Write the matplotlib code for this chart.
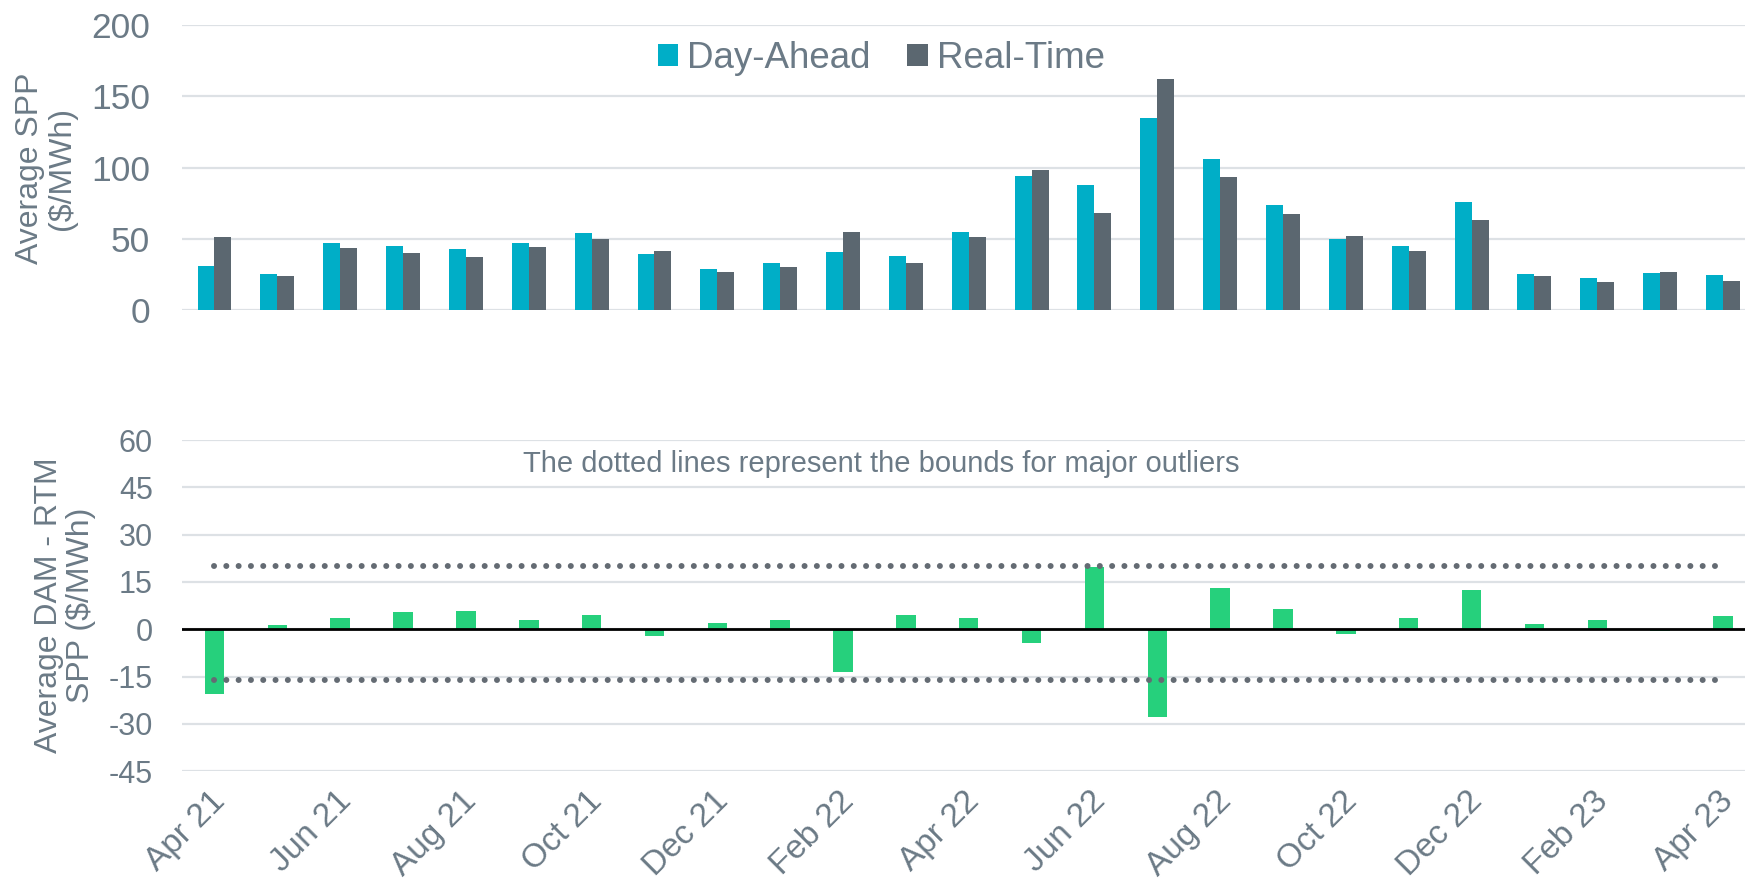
import matplotlib
matplotlib.use("Agg")
import matplotlib.pyplot as plt
import matplotlib.transforms as mtransforms
import numpy as np

plt.rcParams['font.family'] = ['Liberation Sans', 'DejaVu Sans']

months = ["Apr 21", "May 21", "Jun 21", "Jul 21", "Aug 21", "Sep 21", "Oct 21", "Nov 21",
          "Dec 21", "Jan 22", "Feb 22", "Mar 22", "Apr 22", "May 22", "Jun 22", "Jul 22",
          "Aug 22", "Sep 22", "Oct 22", "Nov 22", "Dec 22", "Jan 23", "Feb 23", "Mar 23", "Apr 23"]
day_ahead = [31.1, 25.5, 46.8, 44.9, 43.1, 47.1, 53.8, 39.3, 28.6, 33.0, 41.0, 37.7, 54.5,
             93.9, 87.5, 134.8, 106.0, 73.5, 50.1, 44.7, 75.6, 25.5, 22.5, 26.0, 24.3]
real_time = [51.5, 24.1, 43.3, 39.8, 37.2, 44.0, 49.6, 41.4, 26.5, 30.0, 54.5, 33.2, 51.0,
             98.1, 67.9, 162.5, 93.2, 67.2, 51.7, 41.4, 63.2, 23.9, 19.4, 26.7, 20.1]
dam_rtm_diff = [-20.5, 1.4, 3.6, 5.5, 5.9, 3.0, 4.4, -2.1, 2.0, 3.0, -13.4, 4.5, 3.5,
                -4.3, 19.7, -27.9, 13.1, 6.5, -1.6, 3.5, 12.4, 1.7, 3.0, -0.6, 4.2]
upper_bound = 20.2
lower_bound = -16.2
top_yticks = [0, 50, 100, 150, 200]
bottom_yticks = [-45, -30, -15, 0, 15, 30, 45, 60]
annotation = "The dotted lines represent the bounds for major outliers"

C_DA = "#00AEC7"
C_RT = "#5B6770"
C_GREEN = "#26D07C"
C_TEXT = "#6B7A86"
C_GRID = "#DDE1E5"
C_DOT = "#646B73"

fig = plt.figure(figsize=(17.45, 8.84), dpi=100)
W, H = 1745.0, 884.0
left = 182 / W
x = np.arange(len(months))
xlim = (-0.517, 24.35)

# Top panel
ax1 = fig.add_axes([left, (H - 310) / H, 1 - left, 284.7 / H])
bw = 0.27
ax1.bar(x - bw / 2, day_ahead, width=bw, color=C_DA, label="Day-Ahead", zorder=3)
ax1.bar(x + bw / 2, real_time, width=bw, color=C_RT, label="Real-Time", zorder=3)
ax1.set_ylim(0, 200)
ax1.set_xlim(*xlim)
ax1.set_yticks(top_yticks)
ax1.set_yticklabels([str(t) for t in top_yticks])
ax1.tick_params(axis='y', length=0, pad=23, labelsize=25.5, labelcolor=C_TEXT)
ax1.set_xticks([])
ax1.grid(axis='y', color=C_GRID, linewidth=1.6, zorder=0)
for s in ax1.spines.values():
    s.set_visible(False)
leg = ax1.legend(loc='center', bbox_to_anchor=(0.505, 0.934), bbox_transform=fig.transFigure,
                 ncol=2, frameon=False, fontsize=26.5, handlelength=0.55, handleheight=0.55,
                 handletextpad=0.25, columnspacing=1.0, borderpad=0)
for t in leg.get_texts():
    t.set_color(C_TEXT)
fig.text(46 / W, 1 - 168 / H, "Average SPP\n($/MWh)", rotation=90, ha='center', va='center',
         multialignment='center', fontsize=23, color=C_TEXT, linespacing=1.05)

# Bottom panel
ax2 = fig.add_axes([left, (H - 771.3) / H, 1 - left, 331.3 / H])
ax2.bar(x, dam_rtm_diff, width=0.31, color=C_GREEN, zorder=3)
ax2.set_ylim(-45, 60)
ax2.set_xlim(*xlim)
ax2.set_yticks(bottom_yticks)
ax2.set_yticklabels([str(t) for t in bottom_yticks])
ax2.tick_params(axis='y', length=0, pad=21, labelsize=22, labelcolor=C_TEXT)
ax2.grid(axis='y', color=C_GRID, linewidth=1.6, zorder=0)
ax2.axhline(0, color='black', linewidth=2, zorder=4)
for yb in (upper_bound, lower_bound):
    ax2.plot([x[0], x[-1]], [yb, yb], color=C_DOT, linewidth=4.3,
             linestyle=(0, (0.01, 2.05)), dash_capstyle='round', zorder=5)
for s in ax2.spines.values():
    s.set_visible(False)
ax2.set_xticks(x[::2])
ax2.set_xticklabels(months[::2], rotation=45, ha='right', va='center', rotation_mode='anchor')
ax2.tick_params(axis='x', length=0, pad=18, labelsize=24, labelcolor=C_TEXT)
off = mtransforms.ScaledTranslation(6 / 100, 0, fig.dpi_scale_trans)
for lbl in ax2.get_xticklabels():
    lbl.set_transform(lbl.get_transform() + off)
ax2.text(10.6, 52.4, annotation, ha='center', va='center', fontsize=21, color=C_TEXT)
fig.text(65 / W, 1 - 605.6 / H, "Average DAM - RTM\nSPP ($/MWh)", rotation=90, ha='center',
         va='center', multialignment='center', fontsize=23, color=C_TEXT, linespacing=1.05)

fig.savefig("out.png", dpi=100, facecolor='white')
